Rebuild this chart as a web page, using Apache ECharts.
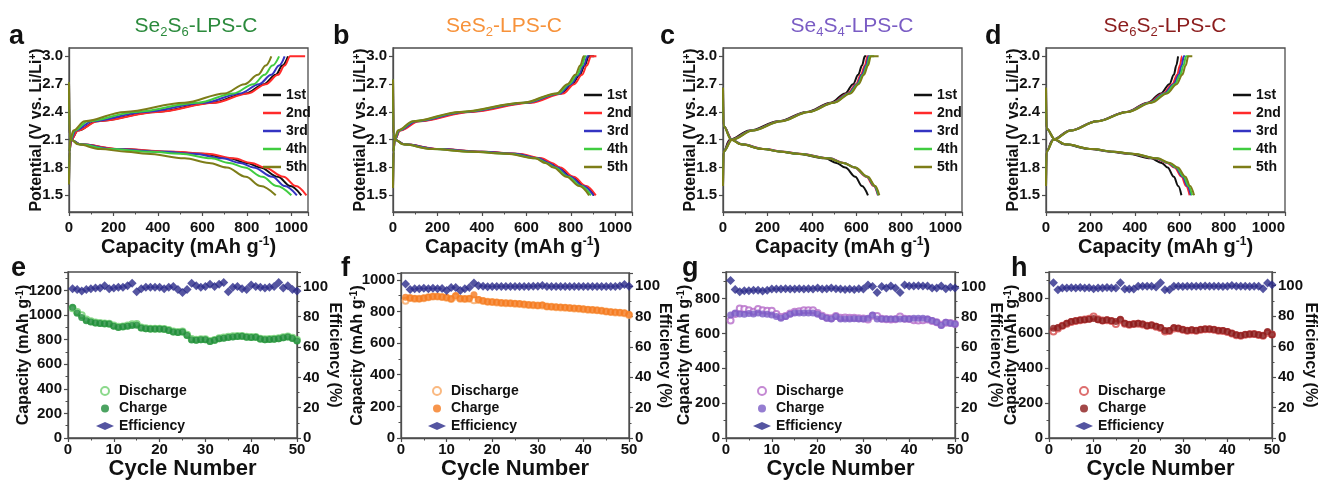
<!DOCTYPE html>
<html>
<head>
<meta charset="utf-8">
<title>Se-S LPS-C cells</title>
<script src="https://cdn.jsdelivr.net/npm/echarts@6.0.0/dist/echarts.min.js"></script>
<style>
  html, body { margin: 0; padding: 0; background: #fff; }
  #main { width: 1319px; height: 481px; }
</style>
</head>
<body>
<div id="main"></div>
<script>
/* data ----------------------------------------------------------- start */
const cycleNames = ['1st', '2nd', '3rd', '4th', '5th'];

// voltage steps (V) used to read the charge / discharge profiles
const disV = [2.1, 2.05, 2.0, 1.97, 1.95, 1.9, 1.85, 1.8, 1.7, 1.6, 1.5];
const chgV = [2.1, 2.2, 2.3, 2.4, 2.5, 2.6, 2.7, 2.8, 2.9, 3.0];
const yTicks = [1.5, 1.8, 2.1, 2.4, 2.7, 3.0];

// capacity (mAh/g) at each voltage step, one row per cycle
// a: Se2S6-LPS-C
const aDisCap = [
  [10, 50, 220, 450, 600, 720, 800, 860, 940, 995, 1045],
  [10, 50, 230, 470, 620, 740, 820, 880, 965, 1020, 1068],
  [10, 50, 200, 420, 560, 690, 770, 830, 915, 970, 1025],
  [10, 45, 180, 370, 500, 640, 720, 790, 870, 935, 1000],
  [10, 40, 140, 260, 350, 520, 630, 710, 795, 862, 930]
];
const aChgCap = [
  [10, 40, 125, 390, 645, 795, 877, 930, 960, 985],
  [10, 40, 130, 400, 655, 805, 885, 940, 970, 995],
  [8, 30, 105, 340, 610, 770, 855, 910, 945, 970],
  [6, 25, 85, 300, 580, 740, 830, 880, 915, 945],
  [5, 20, 70, 250, 520, 700, 790, 850, 885, 910]
];
const aChgEnd = [985, 1062, 970, 945, 910];

// b: SeS2-LPS-C
const bDisCap = [
  [10, 50, 200, 400, 550, 660, 705, 743, 804, 860, 905],
  [10, 50, 210, 410, 560, 670, 715, 752, 812, 868, 912],
  [10, 50, 200, 395, 545, 655, 700, 738, 798, 855, 902],
  [10, 45, 180, 360, 520, 645, 690, 728, 788, 845, 890],
  [10, 45, 175, 350, 510, 640, 685, 722, 780, 838, 882]
];
const bChgCap = [
  [8, 30, 110, 335, 605, 755, 805, 840, 862, 880],
  [8, 32, 118, 350, 620, 765, 815, 850, 872, 890],
  [8, 28, 105, 325, 600, 750, 800, 835, 858, 875],
  [7, 25, 95, 310, 590, 742, 792, 828, 850, 865],
  [6, 22, 90, 300, 585, 735, 785, 820, 842, 858]
];
const bChgEnd = [905, 915, 880, 870, 862];

// c: Se4S4-LPS-C
const cDisCap = [
  [40, 80, 180, 260, 330, 460, 510, 550, 595, 625, 652],
  [42, 85, 190, 275, 345, 480, 545, 590, 645, 678, 697],
  [40, 85, 185, 270, 340, 478, 542, 592, 648, 680, 698],
  [38, 82, 180, 265, 335, 475, 540, 592, 650, 682, 700],
  [36, 80, 178, 262, 332, 472, 540, 595, 652, 685, 703]
];
const cChgCap = [
  [30, 120, 248, 376, 485, 550, 585, 608, 625, 638],
  [35, 128, 255, 380, 492, 562, 598, 620, 638, 650],
  [38, 130, 258, 382, 495, 566, 602, 625, 643, 655],
  [40, 132, 260, 384, 498, 570, 606, 630, 648, 660],
  [42, 135, 262, 386, 500, 574, 610, 634, 652, 665]
];
const cChgEnd = [645, 655, 662, 680, 700];

// d: Se6S2-LPS-C
const dDisCap = [
  [40, 80, 198, 290, 368, 472, 520, 547, 575, 595, 609],
  [42, 85, 205, 300, 380, 490, 545, 578, 610, 630, 646],
  [42, 85, 205, 302, 383, 494, 550, 583, 615, 636, 652],
  [42, 86, 207, 304, 386, 497, 553, 587, 620, 641, 657],
  [42, 87, 210, 306, 390, 500, 558, 593, 627, 648, 666]
];
const dChgCap = [
  [30, 108, 227, 361, 458, 517, 555, 575, 586, 594],
  [32, 110, 228, 362, 462, 527, 568, 590, 602, 612],
  [33, 111, 229, 364, 466, 532, 574, 597, 610, 620],
  [34, 112, 230, 366, 470, 538, 580, 604, 618, 630],
  [35, 113, 231, 368, 475, 545, 588, 613, 628, 640]
];
const dChgEnd = [594, 615, 625, 640, 658];

// cycling, 50 cycles
const cycles = [1, 2, 3, 4, 5, 6, 7, 8, 9, 10, 11, 12, 13, 14, 15, 16, 17, 18, 19, 20,
  21, 22, 23, 24, 25, 26, 27, 28, 29, 30, 31, 32, 33, 34, 35, 36, 37, 38, 39, 40,
  41, 42, 43, 44, 45, 46, 47, 48, 49, 50];

const eDis = [1055, 1025, 1000, 965, 950, 940, 935, 932, 930, 915, 905, 908, 915, 925, 928, 900, 893, 890, 890, 890,
  887, 878, 866, 862, 866, 840, 805, 800, 803, 803, 790, 798, 812, 818, 825, 828, 830, 830, 825, 822,
  822, 808, 803, 806, 808, 812, 820, 826, 815, 798];
const eChg = [1065, 1015, 980, 955, 945, 935, 932, 930, 928, 910, 900, 905, 910, 915, 918, 895, 890, 888, 888, 888,
  885, 875, 862, 858, 862, 835, 798, 796, 800, 800, 785, 795, 808, 812, 818, 822, 826, 828, 820, 818,
  820, 805, 800, 802, 803, 808, 815, 822, 810, 790];
const eEff = [98.5, 98, 97, 98, 98.5, 99, 99, 100.5, 98.5, 99, 99.5, 99.5, 100.5, 102, 96.5, 98.5, 99.5, 99.5, 99.5, 99.5,
  98.5, 99.5, 100, 98, 96, 98, 102, 100.5, 99.5, 100, 101.5, 100, 101.5, 102.5, 96.5, 99.5, 100, 98.5, 98, 101,
  100, 99.5, 99, 99.5, 100, 102.5, 99, 100.5, 98, 97];

const fDis = [868, 885, 880, 880, 884, 889, 894, 894, 891, 887, 879, 895, 881, 879, 880, 870, 873, 866, 861, 859,
  857, 854, 852, 851, 849, 847, 844, 841, 839, 837, 838, 831, 829, 827, 825, 824, 821, 819, 817, 814,
  811, 809, 807, 804, 799, 796, 794, 792, 789, 778];
const fChg = [890, 885, 882, 880, 885, 890, 895, 895, 892, 888, 880, 900, 882, 880, 882, 905, 875, 868, 862, 860,
  858, 855, 853, 852, 850, 848, 845, 842, 840, 838, 840, 832, 830, 828, 826, 825, 822, 820, 818, 815,
  812, 810, 808, 805, 800, 797, 795, 793, 790, 780];
const fEff = [101.3, 97.8, 98.3, 98.3, 98.5, 98.3, 98.6, 98.3, 98.4, 97, 99, 99, 97, 98.3, 99, 102, 100.2, 99.8, 99.6, 99.7,
  99.7, 99.7, 99.7, 99.7, 99.7, 99.7, 99.7, 99.7, 99.8, 99.8, 100.3, 99.7, 99.7, 99.7, 99.7, 99.7, 99.7, 99.7, 99.7, 99.7,
  99.7, 99.7, 99.7, 99.7, 99.7, 99.7, 99.7, 100, 101, 99.8];

const gDis = [674, 712, 743, 740, 734, 725, 740, 734, 730, 730, 712, 695, 700, 715, 725, 728, 734, 734, 734, 718,
  702, 690, 688, 700, 690, 692, 690, 690, 688, 686, 680, 702, 700, 685, 682, 680, 682, 698, 685, 683,
  676, 674, 676, 680, 672, 665, 650, 662, 660, 655];
const gChg = [706, 717, 712, 710, 715, 712, 717, 712, 710, 706, 698, 687, 698, 710, 717, 717, 717, 717, 717, 710,
  698, 687, 683, 698, 683, 683, 683, 685, 683, 683, 687, 706, 683, 683, 683, 683, 683, 683, 683, 683,
  687, 687, 687, 683, 674, 665, 646, 665, 659, 655];
const gEff = [104, 98, 96.5, 97.2, 97.2, 97.5, 97.5, 97, 97.5, 98.3, 98.3, 98.3, 98.5, 98.3, 98.3, 98.5, 98.3, 98.5, 98.3, 99,
  98.3, 98.5, 99, 98.5, 98.3, 98, 98.3, 98, 98.5, 98.3, 101, 100, 96, 100, 99, 100.3, 99, 96, 101, 100.4,
  100.4, 100.5, 100.4, 100.4, 99, 99, 100.4, 98.5, 99.5, 99];

const hDis = [607, 625, 640, 652, 662, 668, 672, 676, 680, 693, 677, 670, 672, 668, 650, 672, 652, 646, 650, 652,
  648, 640, 643, 635, 628, 607, 610, 625, 624, 618, 612, 615, 612, 617, 620, 621, 618, 612, 611, 605,
  596, 586, 584, 589, 592, 593, 588, 584, 600, 590];
const hChg = [626, 630, 641, 654, 664, 669, 673, 675, 678, 682, 675, 669, 675, 669, 664, 678, 654, 648, 650, 654,
  650, 641, 645, 637, 630, 613, 613, 630, 626, 619, 613, 617, 613, 619, 622, 622, 619, 613, 613, 607,
  598, 589, 585, 591, 594, 594, 589, 585, 607, 589];
const hEff = [102, 97.4, 98.5, 98.5, 98.7, 98.5, 98.8, 98.5, 98.7, 98, 98.5, 98.5, 98.8, 98.5, 98.5, 102, 97.8, 97.8, 97.8, 99.6,
  99.6, 99.6, 99.6, 99.2, 102, 97.4, 97.4, 99.6, 99.6, 99.4, 99.6, 99.6, 99.6, 99.6, 99.8, 99.6, 99.6, 99.6, 99.4, 99.6,
  100.2, 99.6, 99.6, 99.6, 99.4, 99.6, 99.6, 98, 101.7, 100.6];
/* data ----------------------------------------------------------- end */

/* styles --------------------------------------------------------- start */
const FONT = '"Liberation Sans", Arial, sans-serif';
const AXIS_COLOR = '#4d4d4d';
const cycleColors = ['#111111', '#ff2a2a', '#3434c2', '#40cc40', '#7d7d18'];
const EFF_COLOR = '#2b2b8a';

// one entry per top panel (layout + curve shape at x = 0)
const topPanels = [
  { left: 69, dis: aDisCap, chg: aChgCap, end: aChgEnd, peak: 2.72, low: 1.62, knee: 2.15,
    title: ['Se', '2', 'S', '6'], titleX: 191, titleColor: '#2b8a3c', letter: 'a', letterX: 9, legendX: 258 },
  { left: 393, dis: bDisCap, chg: bChgCap, end: bChgEnd, peak: 2.75, low: 1.58, knee: 2.15,
    title: ['SeS', '2', '', ''], titleX: 499, titleColor: '#f7923a', letter: 'b', letterX: 333, legendX: 579 },
  { left: 723, dis: cDisCap, chg: cChgCap, end: cChgEnd, peak: 2.66, low: 1.6, knee: 2.25,
    title: ['Se', '4', 'S', '4'], titleX: 847, titleColor: '#7a5cc4', letter: 'c', letterX: 660, legendX: 909 },
  { left: 1046, dis: dDisCap, chg: dChgCap, end: dChgEnd, peak: 2.66, low: 1.6, knee: 2.22,
    title: ['Se', '6', 'S', '2'], titleX: 1160, titleColor: '#8b1c1c', letter: 'd', letterX: 985, legendX: 1228 }
];

const bottomPanels = [
  { left: 68, top: 272, width: 229, height: 170, dis: eDis, chg: eChg, eff: eEff, capMax: 1351, effMax: 109.5,
    dark: '#1f8c3a', light: '#6fcf6f', letter: 'e', letterX: 11, legendX: 91, nameGap: 35, effGap: 29 },
  { left: 401, top: 273, width: 228, height: 169, dis: fDis, chg: fChg, eff: fEff, capMax: 1043, effMax: 108.6,
    dark: '#f57a1f', light: '#f9a862', letter: 'f', letterX: 341, legendX: 423, nameGap: 34, effGap: 27 },
  { left: 726, top: 272, width: 229, height: 170, dis: gDis, chg: gChg, eff: gEff, capMax: 953, effMax: 109.6,
    dark: '#7b5cc6', light: '#b56cc8', letter: 'g', letterX: 682, legendX: 748, nameGap: 32, effGap: 32 },
  { left: 1049, top: 272, width: 231, height: 169, dis: hDis, chg: hChg, eff: hEff, capMax: 947, effMax: 109,
    dark: '#8b1a1a', light: '#d44a4a', letter: 'h', letterX: 1011, legendX: 1070, nameGap: 28, effGap: 30 }
];
/* styles --------------------------------------------------------- end */

function axisBase() {
  return {
    nameMoveOverlap: false,
    axisLine: { show: true, onZero: false, lineStyle: { color: AXIS_COLOR, width: 1.3 } },
    axisTick: { show: true, inside: false, length: 4, lineStyle: { color: AXIS_COLOR, width: 1.2 } },
    minorTick: { show: true, splitNumber: 2, length: 2.5, lineStyle: { color: AXIS_COLOR, width: 1 } },
    axisLabel: { fontFamily: FONT, fontWeight: 'bold', fontSize: 15, color: '#111', margin: 6,
      showMaxLabel: false, formatter: (v) => String(v) },
    splitLine: { show: false },
    minorSplitLine: { show: false }
  };
}

function nameStyle(size) {
  const base = { fontFamily: FONT, fontWeight: 'bold', fontSize: size, color: '#111' };
  return Object.assign({}, base, {
    rich: {
      b: base,
      sup: { fontFamily: FONT, fontWeight: 'bold', fontSize: Math.round(size * 0.62), color: '#111',
        padding: [0, 0, Math.round(size * 0.5), 0] }
    }
  });
}

// capacity/voltage pairs for one profile
function profile(startPts, vSteps, caps, endCap) {
  const pts = startPts.slice();
  caps.forEach((c, i) => pts.push([c, vSteps[i]]));
  if (endCap > caps[caps.length - 1]) pts.push([endCap, vSteps[vSteps.length - 1]]);
  return pts;
}

const grid = [];
const xAxis = [];
const yAxis = [];
const series = [];
const legend = [];
const title = [];
const graphic = [];

/* top row: voltage profiles */
topPanels.forEach((p, i) => {
  grid.push({ left: p.left, top: 48, width: 239, height: 164, show: true,
    borderColor: AXIS_COLOR, borderWidth: 1.3, backgroundColor: 'transparent' });
  const xa = axisBase();
  xa.axisLabel.margin = 8;
  xAxis.push(Object.assign(xa, {
    type: 'value', gridIndex: i, min: 0, max: 1075, interval: 200,
    name: '{b|Capacity (mAh g}{sup|-1}{b|)}', nameLocation: 'middle', nameGap: 24,
    nameTextStyle: nameStyle(20)
  }));
  const ya = axisBase();
  ya.axisLabel.formatter = (v) => v.toFixed(1);
  ya.axisLabel.customValues = yTicks;
  ya.axisLabel.showMaxLabel = true;
  ya.axisTick.customValues = yTicks;
  ya.minorTick.show = false;
  yAxis.push(Object.assign(ya, {
    type: 'value', gridIndex: i, min: 1.32, max: 3.09,
    name: '{b|Potential (V vs. Li/Li}{sup|+}{b|)}', nameLocation: 'middle', nameGap: 23,
    nameTextStyle: nameStyle(16)
  }));
  cycleNames.forEach((nm, c) => {
    const common = {
      type: 'line', name: nm, xAxisIndex: i, yAxisIndex: i, symbol: 'none',
      smooth: 0.35, smoothMonotone: 'x', color: cycleColors[c],
      lineStyle: { width: 2, color: cycleColors[c] }, z: 2 + c
    };
    series.push(Object.assign({}, common, {
      data: profile([[0, p.peak], [2, p.knee]], disV, p.dis[c], 0)
    }));
    series.push(Object.assign({}, common, {
      data: profile([[0, p.low], [2, 1.97]], chgV, p.chg[c], p.end[c])
    }));
  });
  legend.push({
    orient: 'vertical', left: p.legendX, top: 83, itemWidth: 18, itemHeight: 2.5, itemGap: 4,
    selectedMode: false,
    data: cycleNames.map((nm, c) => ({ name: nm, icon: 'rect', itemStyle: { color: cycleColors[c] } })),
    textStyle: { fontFamily: FONT, fontWeight: 'bold', fontSize: 14, color: '#111' }
  });
  const tRich = {
    m: { fontFamily: FONT, fontSize: 21, color: p.titleColor },
    s: { fontFamily: FONT, fontSize: 13, color: p.titleColor, padding: [13, 0, 0, 0] }
  };
  const t = p.title;
  let text = '{m|' + t[0] + '}{s|' + t[1] + '}';
  if (t[2]) text += '{m|' + t[2] + '}{s|' + t[3] + '}';
  text += '{m|-LPS-C}';
  title.push({ text: text, left: p.titleX, top: 8, textAlign: 'center',
    textStyle: { fontFamily: FONT, fontSize: 21, color: p.titleColor, fontWeight: 'normal', rich: tRich } });
  graphic.push({ type: 'text', x: p.letterX, y: 50,
    style: { text: p.letter, font: 'bold 27px ' + FONT, fill: '#111', verticalAlign: 'bottom' } });
});

/* bottom row: cycling */
bottomPanels.forEach((p, k) => {
  const gi = 4 + k;
  grid.push({ left: p.left, top: p.top, width: p.width, height: p.height, show: true,
    borderColor: AXIS_COLOR, borderWidth: 1.3, backgroundColor: 'transparent' });
  const xa = axisBase();
  xa.axisLabel.showMaxLabel = true;
  xa.axisLabel.margin = 4;
  xAxis.push(Object.assign(xa, {
    type: 'value', gridIndex: gi, min: 0, max: 50, interval: 10,
    name: 'Cycle Number', nameLocation: 'middle', nameGap: 20,
    nameTextStyle: { fontFamily: FONT, fontWeight: 'bold', fontSize: 22, color: '#111' }
  }));
  yAxis.push(Object.assign(axisBase(), {
    type: 'value', gridIndex: gi, min: 0, max: p.capMax, interval: 200,
    name: '{b|Capacity (mAh g}{sup|-1}{b|)}', nameLocation: 'middle', nameGap: p.nameGap,
    nameTextStyle: nameStyle(16)
  }));
  series.push({
    type: 'scatter', name: 'Discharge', xAxisIndex: gi, yAxisIndex: 4 + k,
    symbol: 'emptyCircle', symbolSize: 6, color: p.light,
    itemStyle: { color: p.light, borderWidth: 1 },
    data: cycles.map((n, i) => [n, p.dis[i]])
  });
  series.push({
    type: 'scatter', name: 'Charge', xAxisIndex: gi, yAxisIndex: 4 + k,
    symbol: 'circle', symbolSize: 7, color: p.dark, itemStyle: { color: p.dark },
    data: cycles.map((n, i) => [n, p.chg[i]])
  });
  legend.push({
    orient: 'vertical', left: p.legendX, top: 379, itemWidth: 18, itemHeight: 8, itemGap: 3.5,
    selectedMode: false,
    textStyle: { fontFamily: FONT, fontWeight: 'bold', fontSize: 14, color: '#111' },
    data: [
      { name: 'Discharge', icon: 'emptyCircle', itemStyle: { color: p.light } },
      { name: 'Charge', icon: 'circle', itemStyle: { color: p.dark } },
      { name: 'Efficiency', icon: 'diamond', itemStyle: { color: EFF_COLOR } }
    ]
  });
  graphic.push({ type: 'text', x: p.letterX, y: 282,
    style: { text: p.letter, font: 'bold 27px ' + FONT, fill: '#111', verticalAlign: 'bottom' } });
});

// right (efficiency) axes come after the left ones
bottomPanels.forEach((p, k) => {
  const gi = 4 + k;
  yAxis.push(Object.assign(axisBase(), {
    type: 'value', gridIndex: gi, position: 'right', min: 0, max: p.effMax, interval: 20,
    name: 'Efficiency (%)', nameLocation: 'middle', nameGap: p.effGap, nameRotate: -90,
    nameTextStyle: { fontFamily: FONT, fontWeight: 'bold', fontSize: 16, color: '#111' }
  }));
  series.push({
    type: 'scatter', name: 'Efficiency', xAxisIndex: gi, yAxisIndex: 8 + k,
    symbol: 'diamond', symbolSize: 9, color: EFF_COLOR, itemStyle: { color: EFF_COLOR },
    data: cycles.map((n, i) => [n, p.eff[i]])
  });
});

const chart = echarts.init(document.getElementById('main'), null, { renderer: 'canvas' });
chart.setOption({
  animation: false,
  backgroundColor: '#ffffff',
  title: title,
  legend: legend,
  grid: grid,
  xAxis: xAxis,
  yAxis: yAxis,
  series: series,
  graphic: graphic
});
</script>
</body>
</html>
